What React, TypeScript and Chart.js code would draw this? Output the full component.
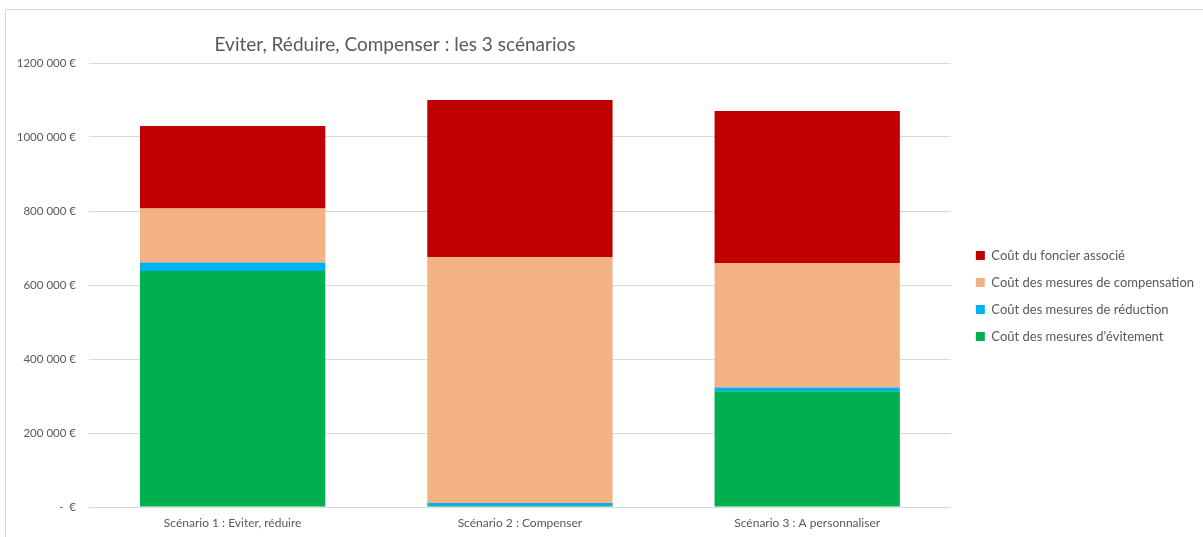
import React, { useEffect, useRef } from 'react';
import { Chart, registerables } from 'chart.js';

Chart.register(...registerables);

const categories = ['Scénario 1 : Eviter, réduire', 'Scénario 2 : Compenser', 'Scénario 3 : A personnaliser'];
const seriesLabels = [
  "Coût des mesures d'évitement",
  'Coût des mesures de réduction',
  'Coût des mesures de compensation',
  'Coût du foncier associé',
];
const evitement = [638000, 3000, 313000];
const reduction = [23000, 8000, 10000];
const compensation = [146000, 665000, 336000];
const foncier = [223000, 424000, 411000];
const yTickLabels = ['-  €', '200 000 €', '400 000 €', '600 000 €', '800 000 €', '1000 000 €', '1200 000 €'];
const chartTitle = 'Eviter, Réduire, Compenser : les 3 scénarios';

const TEXT = '#595959';
const GRID = '#d9d9d9';
const FONT = 'Lato';

const titlePlugin = {
  id: 'customTitle',
  afterDraw(chart: any) {
    const ctx = chart.ctx;
    ctx.save();
    ctx.font = `19px ${FONT}`;
    ctx.fillStyle = TEXT;
    ctx.textAlign = 'center';
    ctx.textBaseline = 'middle';
    ctx.fillText(chartTitle, chart.chartArea.left + 306, 35);
    ctx.restore();
  },
};

export default function App() {
  const ref = useRef<HTMLCanvasElement | null>(null);

  useEffect(() => {
    if (!ref.current) return;
    Chart.defaults.font.family = FONT;
    const chart = new Chart(ref.current, {
      type: 'bar',
      data: {
        labels: categories,
        datasets: [
          { label: seriesLabels[0], data: evitement, backgroundColor: '#00B050' },
          { label: seriesLabels[1], data: reduction, backgroundColor: '#00B0F0' },
          { label: seriesLabels[2], data: compensation, backgroundColor: '#F4B183' },
          { label: seriesLabels[3], data: foncier, backgroundColor: '#C00000' },
        ],
      },
      options: {
        animation: false,
        responsive: false,
        layout: { padding: { top: 53, left: 0, right: 4, bottom: 8 } },
        datasets: { bar: { categoryPercentage: 1, barPercentage: 0.645, borderWidth: 0 } },
        plugins: {
          title: { display: false },
          tooltip: { enabled: false },
          legend: {
            position: 'right',
            reverse: true,
            maxWidth: 400,
            labels: {
              boxWidth: 9,
              boxHeight: 9,
              padding: 14,
              color: TEXT,
              font: { size: 13, family: FONT },
            },
          },
        },
        scales: {
          x: {
            stacked: true,
            grid: { display: false, drawTicks: false },
            border: { display: false },
            ticks: { color: TEXT, font: { size: 12, family: FONT, lineHeight: 1 }, padding: 10 },
            afterFit: (s: any) => { s.height = 22; },
          },
          y: {
            stacked: true,
            min: 0,
            max: 1200000,
            grid: { color: GRID, drawTicks: false, lineWidth: 1 },
            border: { display: false },
            ticks: {
              stepSize: 200000,
              color: TEXT,
              font: { size: 11.5, family: FONT },
              padding: 13,
              callback: (_v: any, i: number) => yTickLabels[i],
            },
            afterFit: (s: any) => { s.width = 83; },
          },
          yPad: {
            type: 'linear',
            position: 'right',
            display: true,
            grid: { display: false },
            border: { display: false },
            ticks: { display: false },
            afterFit: (s: any) => { s.width = 11; },
          },
        },
      },
      plugins: [titlePlugin],
    } as any);
    return () => chart.destroy();
  }, []);

  return (
    <div
      style={{
        position: 'fixed',
        left: 5,
        top: 9,
        width: 1400,
        height: 700,
        border: '1px solid #d9d9d9',
        background: '#fff',
      }}
    >
      <canvas ref={ref} width={1202} height={527} style={{ display: 'block' }} />
    </div>
  );
}
